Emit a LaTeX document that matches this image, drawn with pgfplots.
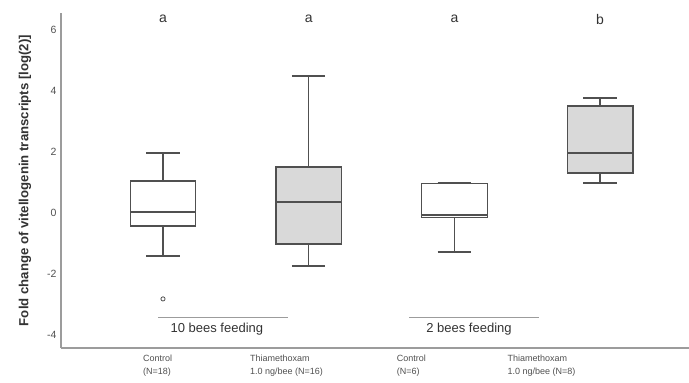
\documentclass[border=0pt]{standalone}
\usepackage{pgfplots}
\pgfplotsset{compat=1.18}
\usepgfplotslibrary{statistics}
\usepackage{fontspec}
\setmainfont{Liberation Sans}
\definecolor{axgray}{HTML}{9C9C9C}
\definecolor{tickgray}{HTML}{505050}
\definecolor{boxgray}{HTML}{505050}
\definecolor{fillgray}{HTML}{D9D9D9}
\definecolor{labdark}{HTML}{333333}
\begin{document}
\begin{tikzpicture}
\begin{axis}[
  scale only axis, width=628pt, height=335pt,
  xmin=0.30, xmax=4.61, ymin=-4.43, ymax=6.56,
  axis lines*=left,
  axis line style={axgray, line width=1.3pt},
  major tick length=0pt,
  ytick={-4,-2,0,2,4,6},
  /pgf/number format/assume math mode=true,
  yticklabel style={font=\fontsize{10.5}{12}\selectfont, text=tickgray, xshift=-1pt},
  xtick={0.863,1.596,2.603,3.363},
  xticklabels={{Control\\(N=18)},{Thiamethoxam\\1.0 ng/bee (N=16)},{Control\\(N=6)},{Thiamethoxam\\1.0 ng/bee (N=8)}},
  xticklabel style={anchor=north west, align=left, font=\fontsize{9}{13.5}\selectfont, text=tickgray, yshift=-3pt, inner xsep=0pt},
  clip=false,
  boxplot/draw direction=y,
  boxplot/every median/.style={line width=1.7pt},
  boxplot/every whisker/.style={line width=1.3pt},
]
\addplot[boxplot prepared={draw position=1, lower whisker=-1.41, lower quartile=-0.43, median=0.03, upper quartile=1.05, upper whisker=1.97, box extend=0.45, whisker extend=0.23},
  draw=boxgray, line width=1.2pt, fill=white, mark=o, mark size=2.1pt, mark options={line width=0.8pt, fill=white}] coordinates {(0,-2.82)};
\addplot[boxplot prepared={draw position=2, lower whisker=-1.74, lower quartile=-1.02, median=0.36, upper quartile=1.51, upper whisker=4.49, box extend=0.45, whisker extend=0.23},
  draw=boxgray, line width=1.2pt, fill=fillgray] coordinates {};
\addplot[boxplot prepared={draw position=3, lower whisker=-1.28, lower quartile=-0.15, median=-0.07, upper quartile=0.96, upper whisker=1.01, box extend=0.45, whisker extend=0.23},
  draw=boxgray, line width=1.2pt, fill=white] coordinates {};
\addplot[boxplot prepared={draw position=4, lower whisker=0.98, lower quartile=1.31, median=1.97, upper quartile=3.51, upper whisker=3.77, box extend=0.45, whisker extend=0.23},
  draw=boxgray, line width=1.2pt, fill=fillgray] coordinates {};
% significance letters
\node[font=\fontsize{14}{16}\selectfont, text=labdark] at (axis cs:1,6.36) {a};
\node[font=\fontsize{14}{16}\selectfont, text=labdark] at (axis cs:2,6.36) {a};
\node[font=\fontsize{14}{16}\selectfont, text=labdark] at (axis cs:3,6.36) {a};
\node[font=\fontsize{14}{16}\selectfont, text=labdark] at (axis cs:4,6.36) {b};
% group annotations
\draw[axgray, line width=0.8pt] (axis cs:0.966,-3.41) -- (axis cs:1.856,-3.41);
\draw[axgray, line width=0.8pt] (axis cs:2.69,-3.41) -- (axis cs:3.58,-3.41);
\node[font=\fontsize{13}{15}\selectfont, text=labdark] at (axis cs:1.37,-3.80) {10 bees feeding};
\node[font=\fontsize{13}{15}\selectfont, text=labdark] at (axis cs:3.10,-3.80) {2 bees feeding};
% y label
\node[rotate=90, font=\bfseries\fontsize{13.2}{15}\selectfont, text=labdark] at ([xshift=-36pt]rel axis cs:0,0.5) {Fold change of vitellogenin transcripts [log(2)]};
\end{axis}
\pgfresetboundingbox
\path (-61pt,-35pt) rectangle (628pt,348pt);
\end{tikzpicture}
\end{document}
